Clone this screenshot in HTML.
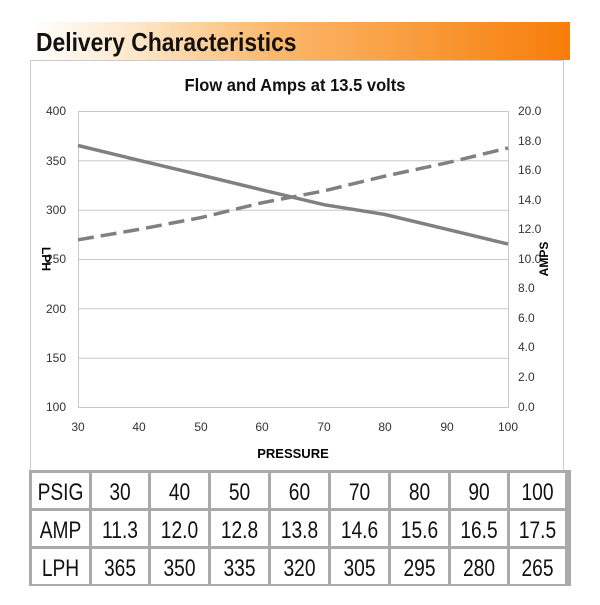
<!DOCTYPE html>
<html><head><style>
body{margin:0;background:#fff;width:600px;height:600px;overflow:hidden;font-family:"Liberation Sans",sans-serif}
</style></head><body>
<svg width="600" height="600" xmlns="http://www.w3.org/2000/svg">
<defs><linearGradient id="g" x1="0" x2="1"><stop offset="0" stop-color="#fff"/><stop offset="0.2" stop-color="#fde6c8"/><stop offset="0.45" stop-color="#fbb86b"/><stop offset="1" stop-color="#f77d0a"/></linearGradient></defs>
<rect x="30" y="22" width="540" height="38" fill="url(#g)"/>
<text x="36" y="51" font-size="26" font-weight="bold" fill="#111" transform="translate(36 0) scale(0.88,1) translate(-36 0)">Delivery Characteristics</text>
<rect x="30.5" y="60.5" width="533" height="410" fill="#fff" stroke="#ccc"/>
<text x="295" y="91" font-size="18" font-weight="bold" text-anchor="middle" fill="#111" transform="translate(295 0) scale(0.92,1) translate(-295 0)">Flow and Amps at 13.5 volts</text>
<g stroke="#c8c8c8" stroke-width="1">
<line x1="78" y1="111.5" x2="508" y2="111.5"/><line x1="78" y1="160.8" x2="508" y2="160.8"/><line x1="78" y1="210.2" x2="508" y2="210.2"/><line x1="78" y1="259.5" x2="508" y2="259.5"/><line x1="78" y1="308.8" x2="508" y2="308.8"/><line x1="78" y1="358.2" x2="508" y2="358.2"/><line x1="78" y1="407.5" x2="508" y2="407.5"/>
<line x1="78.5" y1="111" x2="78.5" y2="408"/><line x1="508.5" y1="111" x2="508.5" y2="408"/>
</g>
<g font-size="12" fill="#333" text-anchor="end">
<text x="66" y="115">400</text><text x="66" y="165">350</text><text x="66" y="214">300</text><text x="66" y="263">250</text><text x="66" y="313">200</text><text x="66" y="362">150</text><text x="66" y="411">100</text>
</g>
<g font-size="12" fill="#333">
<text x="518" y="115">20.0</text><text x="518" y="145">18.0</text><text x="518" y="174">16.0</text><text x="518" y="204">14.0</text><text x="518" y="233">12.0</text><text x="518" y="263">10.0</text><text x="518" y="292">8.0</text><text x="518" y="322">6.0</text><text x="518" y="351">4.0</text><text x="518" y="381">2.0</text><text x="518" y="411">0.0</text>
</g>
<g font-size="12" fill="#333" text-anchor="middle">
<text x="78" y="431">30</text><text x="139" y="431">40</text><text x="201" y="431">50</text><text x="262" y="431">60</text><text x="324" y="431">70</text><text x="385" y="431">80</text><text x="447" y="431">90</text><text x="508" y="431">100</text>
</g>
<text x="293" y="458" font-size="13" font-weight="bold" text-anchor="middle">PRESSURE</text>
<text x="42" y="259" font-size="12" font-weight="bold" text-anchor="middle" transform="rotate(90 42 259)">LPH</text>
<text x="548" y="259" font-size="12" font-weight="bold" text-anchor="middle" transform="rotate(-90 548 259)">AMPS</text>
<polyline fill="none" stroke="#808080" stroke-width="3.5" points="78,145.5 139,160.3 201,175.1 262,189.9 324,204.7 385,214.5 447,229.3 508,244.1"/>
<polyline fill="none" stroke="#808080" stroke-width="3.5" stroke-dasharray="16,7" points="78,239.8 139,229.4 201,217.6 262,202.8 324,190.9 385,176.1 447,162.8 508,148"/>
<rect x="29" y="470" width="542" height="116" fill="#aaa"/>
</svg>
<script>
var s=document.querySelector('svg'),ns='http://www.w3.org/2000/svg';
var xs=[32,92,151,211,271,331,391,451,510,568];
var rows=[["PSIG","30","40","50","60","70","80","90","100"],["AMP","11.3","12.0","12.8","13.8","14.6","15.6","16.5","17.5"],["LPH","365","350","335","320","305","295","280","265"]];
for(var r=0;r<3;r++)for(var c=0;c<9;c++){
 var x0=c==0?32:xs[c],x1=c==0?89:xs[c+1]-3;
 var y0=473+r*38;
 var rc=document.createElementNS(ns,'rect');rc.setAttribute('x',x0);rc.setAttribute('y',y0);rc.setAttribute('width',x1-x0);rc.setAttribute('height',35);rc.setAttribute('fill','#fff');s.appendChild(rc);
 var t=document.createElementNS(ns,'text');var cx=(x0+x1)/2;t.setAttribute('x',cx);t.setAttribute('y',y0+27);t.setAttribute('font-size','24');t.setAttribute('text-anchor','middle');t.setAttribute('fill','#111');t.setAttribute('transform','translate('+cx+' 0) scale(0.8 1) translate('+(-cx)+' 0)');t.textContent=rows[r][c];s.appendChild(t);
}
</script>
</body></html>
